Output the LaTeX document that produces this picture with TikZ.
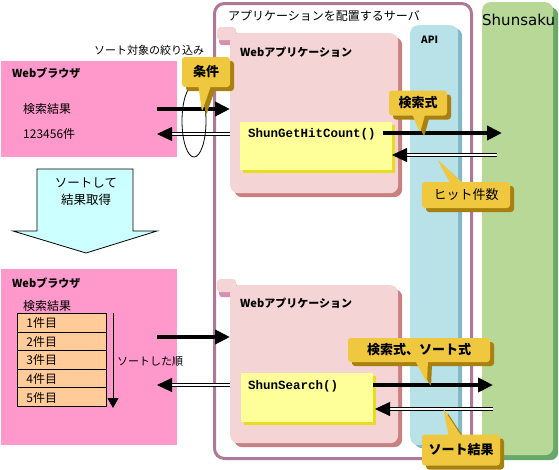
\documentclass[tikz,border=0pt]{standalone}
\usepackage{fontspec}
\setmainfont{Noto Sans CJK JP}
\newfontfamily\codefont{Liberation Mono}
\newfontfamily\latinfont{DejaVu Sans}
\usetikzlibrary{positioning,shapes.geometric,shapes.callouts,shadows,arrows.meta}

\definecolor{serverline}{HTML}{B07898}
\definecolor{appfill}{HTML}{F4D4D4}
\definecolor{appshadow}{HTML}{C88080}
\definecolor{tabshadow}{HTML}{D890B0}
\definecolor{codefill}{HTML}{FFFF99}
\definecolor{codeshadow}{HTML}{E8DC20}
\definecolor{apifill}{HTML}{B8E2E8}
\definecolor{apishadow}{HTML}{80B8C4}
\definecolor{shunfill}{HTML}{B8D898}
\definecolor{shunshadow}{HTML}{68A868}
\definecolor{browserfill}{HTML}{FF99CC}
\definecolor{bubblefill}{HTML}{F0C840}
\definecolor{bubbleshadow}{HTML}{A88010}
\definecolor{sortfill}{HTML}{CCFFFF}
\definecolor{rowfill}{HTML}{FFCC99}

\begin{document}
\begin{tikzpicture}[x=1pt,y=-1pt,
      every node/.style={inner sep=0pt},
      txt/.style={anchor=west,font=\fontsize{12}{14}\selectfont},
      small txt/.style={anchor=west,font=\fontsize{11}{13}\selectfont},
      title txt/.style={anchor=west,font=\bfseries\fontsize{11}{13}\selectfont},
      code txt/.style={anchor=west,font=\codefont\bfseries\fontsize{12.5}{14}\selectfont},
      column/.style={anchor=north west,rounded corners=8pt},
      app/.style={anchor=north west,fill=appfill,rounded corners=8pt,minimum width=168pt,
        drop shadow={shadow xshift=4pt,shadow yshift=-4pt,opacity=1,fill=appshadow}},
      apptab/.style={anchor=north west,fill=appfill,rounded corners=3pt,minimum width=19pt,minimum height=13pt,
        drop shadow={shadow xshift=2pt,shadow yshift=-5pt,opacity=1,fill=tabshadow}},
      code/.style={anchor=north west,fill=codefill,minimum height=48pt,
        drop shadow={shadow xshift=3pt,shadow yshift=-3pt,opacity=1,fill=codeshadow}},
      browser/.style={anchor=north west,fill=browserfill,minimum width=176pt},
      row/.style={draw,fill=rowfill,line width=0.8pt,text width=71pt,inner xsep=9pt,minimum height=18.6pt,
        text depth=-1pt,align=left,font=\fontsize{12}{14}\selectfont},
      bubble/.style={rectangle callout,fill=bubblefill,rounded corners=3pt,callout pointer width=12pt,
        drop shadow={shadow xshift=4pt,shadow yshift=-4pt,opacity=1,fill=bubbleshadow},
        font=\bfseries\fontsize{13}{15}\selectfont},
      req/.style={line width=4pt,-{Triangle[length=15pt,width=14pt]}},
      res/.style={double,double distance=1.6pt,line width=0.8pt,-{Triangle[length=15pt,width=14pt]}}]
  \useasboundingbox (0,0) rectangle (559,469);

  % server and columns
  \node[draw=serverline,line width=3pt,rounded corners=10pt,anchor=north west,
    minimum width=257pt,minimum height=455pt] (server) at (213,2) {};
  \node[title txt,font=\fontsize{12}{14}\selectfont] (servertitle) at (228,16) {アプリケーションを配置するサーバ};
  \node[column,fill=apifill,minimum width=48pt,minimum height=420pt,
    drop shadow={shadow xshift=4pt,shadow yshift=-3pt,opacity=1,fill=apishadow}] (api) at (410,25) {};
  \node[title txt,font=\bfseries\fontsize{10}{12}\selectfont] (apititle) at (421,40) {API};
  \node[column,fill=shunfill,minimum width=71pt,minimum height=453pt,
    drop shadow={shadow xshift=5pt,shadow yshift=-5pt,opacity=1,fill=shunshadow}] (shun) at (482,2) {};
  \node[anchor=west,font=\latinfont\fontsize{15}{17}\selectfont] (shuntitle) at (482,20) {Shunsaku};

  % upper part
  \node[browser,minimum height=96pt] (br1) at (1,61) {};
  \node[title txt] (br1title) at (12,73) {Webブラウザ};
  \node[txt] (hits) at (23,109) {検索結果};
  \node[txt] (count) at (23,134) {123456件};
  \node[apptab] (tab1) at (217,27) {};
  \node[app,minimum height=160pt] (app1) at (230,33) {};
  \node[title txt] (app1title) at (240,52) {Webアプリケーション};
  \node[code,minimum width=152pt] (code1) at (240,122) {};
  \node[code txt,below right=6pt and 8pt of code1.north west] (hitcount) {ShunGetHitCount()};
  \node[small txt,anchor=center] (narrow) at (149,50) {ソート対象の絞り込み};

  \coordinate (q1s) at (157,109);
  \coordinate (a1e) at (157,134);
  \coordinate (q2s) at (383,133);
  \coordinate (q2e) at (502,133);
  \coordinate (a2s) at (497,155);
  \coordinate (a2e) at (392,155);
  \draw[req] (q1s) -- (app1.west |- q1s);
  \draw[res] (app1.west |- a1e) -- (a1e);
  \draw[req] (q2s) -- (q2e);
  \draw[res] (a2s) -- (a2e);
  \node[draw,ellipse,line width=0.8pt,minimum width=24pt,minimum height=72pt] (filter) at (194,121) {};

  \coordinate (tip1) at (202,112);
  \coordinate (tip2) at (420,133);
  \coordinate (tip3) at (437,159);
  \node[bubble,minimum width=48pt,minimum height=30pt,callout absolute pointer={(tip1)}] (cond) at (206,72) {条件};
  \node[bubble,minimum width=58pt,minimum height=25pt,callout absolute pointer={(tip2)}] (query1) at (418,103) {検索式};
  \node[bubble,font=\fontsize{13}{15}\selectfont,minimum width=88pt,minimum height=26pt,
    callout absolute pointer={(tip3)}] (hitnum) at (466,195) {ヒット件数};

  % sort arrow
  \draw[line width=0.8pt,fill=sortfill] (37,169) -- (133,169) -- (133,231) -- (157,231) -- (86,253)
    -- (13,231) -- (37,231) -- cycle;
  \node[align=center,font=\fontsize{12.5}{17}\selectfont] (sortnote) at (86,192) {ソートして\\結果取得};

  % lower part
  \node[browser,minimum height=176pt] (br2) at (1,269) {};
  \node[title txt] (br2title) at (12,283) {Webブラウザ};
  \node[txt] (hits2) at (23,306) {検索結果};
  \node[row,anchor=north west] (r1) at (17,313) {1件目};
  \node[row,below=-0.8pt of r1] (r2) {2件目};
  \node[row,below=-0.8pt of r2] (r3) {3件目};
  \node[row,below=-0.8pt of r3] (r4) {4件目};
  \node[row,below=-0.8pt of r4] (r5) {5件目};
  \coordinate (ordtop) at (113,313);
  \coordinate (ordbot) at (113,408);
  \draw[line width=0.8pt,-{Triangle[length=10pt,width=11pt]}] (ordtop) -- (ordbot);
  \node[small txt] (order) at (117,362) {ソートした順};

  \node[apptab] (tab2) at (217,279) {};
  \node[app,minimum height=158pt] (app2) at (230,285) {};
  \node[title txt] (app2title) at (240,303) {Webアプリケーション};
  \node[code,minimum width=132pt,minimum height=49pt] (code2) at (241,373) {};
  \node[code txt,below right=7pt and 7pt of code2.north west] (search) {ShunSearch()};

  \coordinate (q3s) at (157,337);
  \coordinate (a3e) at (157,385);
  \coordinate (q4s) at (373,385);
  \coordinate (q4e) at (493,385);
  \coordinate (a4s) at (493,409);
  \coordinate (a4e) at (375,409);
  \draw[req] (q3s) -- (app2.west |- q3s);
  \draw[res] (app2.west |- a3e) -- (a3e);
  \draw[req] (q4s) -- (q4e);
  \draw[res] (a4s) -- (a4e);

  \coordinate (tip4) at (427,383);
  \coordinate (tip5) at (443,408);
  \node[bubble,minimum width=142pt,minimum height=24pt,callout absolute pointer={(tip4)}] (query2) at (419,350) {検索式、ソート式};
  \node[bubble,minimum width=78pt,minimum height=31pt,callout absolute pointer={(tip5)}] (sorted) at (461,450) {ソート結果};
\end{tikzpicture}
\end{document}
